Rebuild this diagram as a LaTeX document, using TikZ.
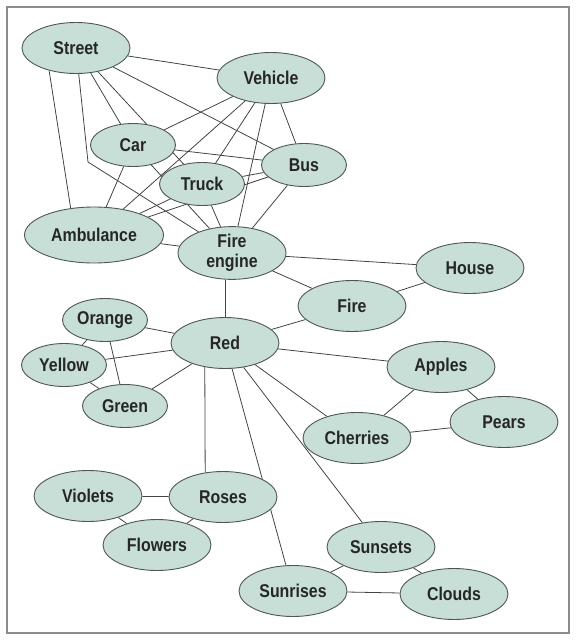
\documentclass[tikz,border=0pt]{standalone}
\usepackage{fontspec}
\newfontfamily\bubblefont{Liberation Sans}[FakeStretch=0.86]
\usepackage{xcolor}
\usetikzlibrary{
  shapes.geometric,
  backgrounds
}
\definecolor{bubblefill}{RGB}{199,223,214}
\definecolor{bubbleline}{RGB}{80,86,84}
\definecolor{linkgray}{RGB}{66,68,68}
\definecolor{framegray}{RGB}{140,140,140}

\begin{document}
\begin{tikzpicture}[
  x=1pt, y=-1pt,
  bubble/.style={ellipse, draw=bubbleline, fill=bubblefill, line width=0.9pt,
                 minimum width=108pt, minimum height=51pt, inner sep=0pt,
                 font=\bubblefont\bfseries\fontsize{18.5}{20}\selectfont,
                 text=black!85, align=center},
  smallbubble/.style={bubble, minimum width=85pt, minimum height=43pt},
  widebubble/.style={bubble, minimum width=139pt, minimum height=56pt},
  link/.style={draw=linkgray, line width=0.8pt},
]
\useasboundingbox (0,0) rectangle (576,640);
\draw[framegray, line width=1.5pt] (7,7) rectangle (569,633);

% transport cluster
\node[bubble] (street) at (76,48) {Street};
\node[bubble] (vehicle) at (271,78) {Vehicle};
\node[smallbubble] (car) at (133,145) {Car};
\node[smallbubble] (truck) at (202,184) {Truck};
\node[smallbubble] (bus) at (304,165) {Bus};
\node[widebubble] (ambulance) at (94,235) {Ambulance};
\node[bubble] (fireeng) at (232,253) {Fire\\engine};
\node[bubble] (house) at (470,268) {House};
\node[bubble] (fire) at (352,306) {Fire};

% colours
\node[smallbubble] (orange) at (105,320) {Orange};
\node[bubble] (red) at (225,343) {Red};
\node[smallbubble] (yellow) at (64,365) {Yellow};
\node[smallbubble] (green) at (125,406) {Green};

% fruit
\node[bubble] (apples) at (441,367) {Apples};
\node[bubble] (pears) at (504,422) {Pears};
\node[bubble] (cherries) at (357,438) {Cherries};

% flowers and sky
\node[bubble] (violets) at (88,496) {Violets};
\node[bubble] (roses) at (223,497) {Roses};
\node[bubble] (flowers) at (157,545) {Flowers};
\node[bubble] (sunsets) at (381,547) {Sunsets};
\node[bubble] (sunrises) at (293,591) {Sunrises};
\node[bubble] (clouds) at (454,594) {Clouds};

\coordinate (bend) at (88,162);

\begin{scope}[on background layer]
  \foreach \a/\b in {street/vehicle, street/bus, street/truck, street/car,
                     vehicle/car, vehicle/ambulance, vehicle/truck,
                     vehicle/fireeng, vehicle/bus,
                     car/bus, car/ambulance, car/fireeng,
                     truck/ambulance, truck/fireeng, truck/bus,
                     bus/ambulance, bus/fireeng,
                     ambulance/fireeng,
                     fireeng/house, fireeng/fire,
                     fire/house, fire/red,
                     red/orange, red/yellow, red/green, red/apples,
                     red/cherries, red/sunrises, red/sunsets,
                     orange/yellow, orange/green, yellow/green,
                     apples/cherries, apples/pears, cherries/pears,
                     violets/roses, violets/flowers, roses/flowers,
                     sunsets/sunrises, sunsets/clouds, sunrises/clouds}
    \draw[link] (\a) -- (\b);
  \draw[link] (street.220) -- (ambulance.131);
  \draw[link] (street) -- (bend) -- (fireeng);
  \draw[link] (fireeng.south -| red.north) -- (red.north);
  \draw[link] (red.230) -- (roses.126);
\end{scope}

\end{tikzpicture}
\end{document}
